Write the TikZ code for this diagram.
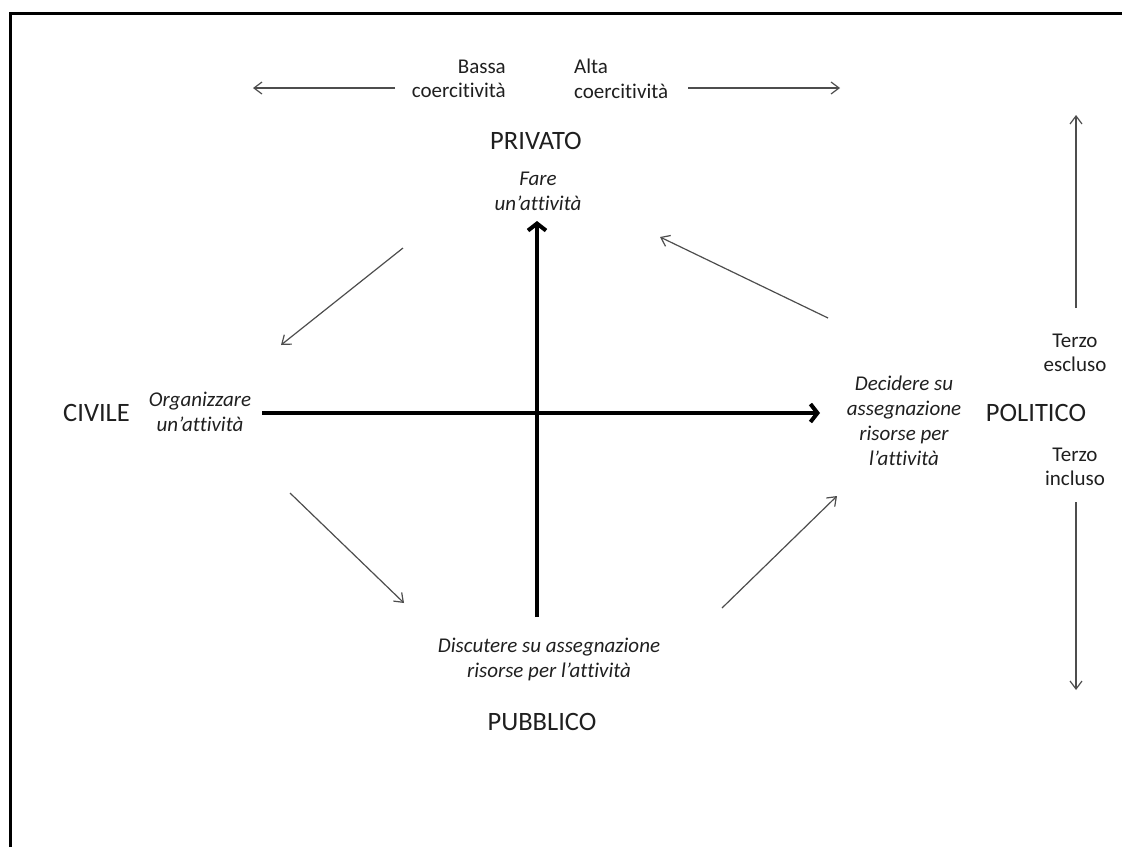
\documentclass[tikz,border=0pt]{standalone}
\usepackage{fontspec}
\setmainfont{Carlito}[Ligatures=NoCommon]
\usetikzlibrary{arrows.meta}
\definecolor{txt}{HTML}{1F1F1F}
\definecolor{thinc}{HTML}{4D4D4D}
\begin{document}
\begin{tikzpicture}[x=1pt,y=-1pt,
  big/.style={font=\fontsize{26.5}{31}\selectfont, text=txt, inner sep=0pt},
  small/.style={font=\fontsize{21}{24.5}\selectfont, text=txt, inner sep=0pt},
  ital/.style={font=\fontsize{21}{25}\selectfont\itshape, text=txt, inner sep=0pt, align=center},
  thinarrow/.style={draw=thinc, line width=1.2pt, -{Straight Barb[length=8pt,width=12pt]}},
  thickarrow/.style={draw=black, line width=4pt, -{Straight Barb[length=7pt,width=18pt]}}]
\useasboundingbox (0,0) rectangle (1122,847);
\draw[line width=3pt] (10,847) -- (10,13) -- (1122,13);

% top coercion labels
\node[small, align=right, anchor=east] (bassa) at (506,79) {Bassa\\coercitività};
\node[small, align=left, anchor=west] (alta) at (574,79) {Alta\\coercitività};
\coordinate (bl) at (253,88);
\coordinate (br) at (840,88);
\coordinate (bls) at (395,88);
\coordinate (brs) at (688,88);
\draw[thinarrow] (bls) -- (bl);
\draw[thinarrow] (brs) -- (br);

% main labels
\node[big] (privato) at (536,141) {PRIVATO};
\node[ital] (fare) at (538,191) {Fare\\un’attività};
\node[big, anchor=east] (civile) at (130,413) {CIVILE};
\node[ital] (org) at (200,412) {Organizzare\\un’attività};
\node[ital] (decidere) at (904,421) {Decidere su\\assegnazione\\risorse per\\l’attività};
\node[big] (politico) at (1036,413) {POLITICO};
\node[small, align=center] (escluso) at (1075,353) {Terzo\\escluso};
\node[small, align=center] (incluso) at (1075,467) {Terzo\\incluso};
\node[ital] (discutere) at (549,659) {Discutere su assegnazione\\risorse per l’attività};
\node[big] (pubblico) at (542,722) {PUBBLICO};

% thick axes
\coordinate (vbot) at (537,617);
\coordinate (vtop) at (537,221);
\coordinate (hl) at (262,413);
\coordinate (hr) at (820,413);
\draw[thickarrow] (vbot) -- (vtop);
\draw[thickarrow] (hl) -- (hr);

% right vertical arrows
\coordinate (ru0) at (1076,308);
\coordinate (ru1) at (1076,115);
\coordinate (rd0) at (1076,502);
\coordinate (rd1) at (1076,690);
\draw[thinarrow] (ru0) -- (ru1);
\draw[thinarrow] (rd0) -- (rd1);

% diagonal arrows
\coordinate (a1s) at (403,248); \coordinate (a1e) at (281,345);
\coordinate (a2s) at (290,493); \coordinate (a2e) at (404,603);
\coordinate (a3s) at (722,608); \coordinate (a3e) at (837,496);
\coordinate (a4s) at (828,318); \coordinate (a4e) at (660,237);
\draw[thinarrow] (a1s) -- (a1e);
\draw[thinarrow] (a2s) -- (a2e);
\draw[thinarrow] (a3s) -- (a3e);
\draw[thinarrow] (a4s) -- (a4e);
\end{tikzpicture}
\end{document}
